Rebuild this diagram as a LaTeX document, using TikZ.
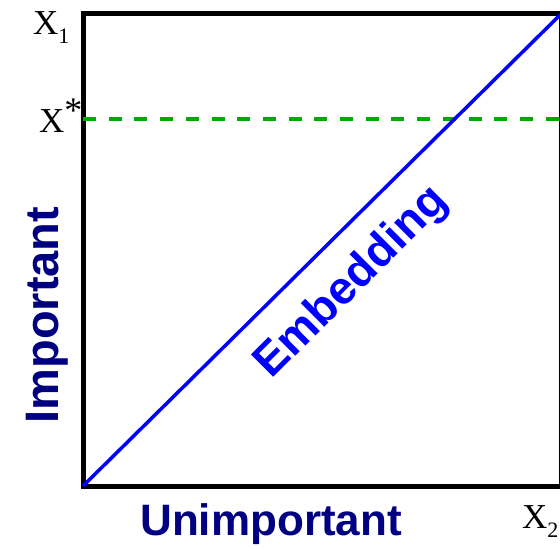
\documentclass[tikz,border=0pt]{standalone}
\usepackage{fontspec}
\setmainfont{Liberation Serif}
\newfontfamily\labelsans{Liberation Sans}
\usetikzlibrary{calc}
\definecolor{axisnavy}{RGB}{0,0,128}
\definecolor{embedblue}{RGB}{0,0,255}
\definecolor{levelgreen}{RGB}{0,170,0}

\begin{document}
\begin{tikzpicture}[
  x=1pt, y=-1pt,
  frame/.style={draw=black, line width=5pt},
  embed/.style={draw=embedblue, line width=3.5pt},
  level/.style={draw=levelgreen, line width=4pt, dash pattern=on 13pt off 12.7pt},
  axislab/.style={font=\labelsans\bfseries\fontsize{44}{44}\selectfont, text=axisnavy, inner sep=0pt},
  varlab/.style={font=\fontsize{35}{35}\selectfont, inner sep=0pt, anchor=base west}
]
\useasboundingbox (0,0) rectangle (560,551);

\coordinate (lo) at (83,486);
\coordinate (hi) at (561,14);
\coordinate (xstar) at (83,119);

\draw[frame] (lo) rectangle (hi);
\draw[level] (xstar) -- (xstar -| hi);
\draw[embed] (lo) -- (hi);

\node[varlab] (x1) at (33,35) {X\raisebox{-9pt}{\fontsize{22}{22}\selectfont 1}};
\node[varlab] (xs) at (39,132) {X\raisebox{10pt}{\fontsize{36}{36}\selectfont *}};
\node[varlab] (x2) at (522,528) {X\raisebox{-9pt}{\fontsize{22}{22}\selectfont 2}};

\node[axislab, rotate=90, anchor=base, font=\labelsans\bfseries\fontsize{47}{47}\selectfont] (imp) at (58,315) {Important};
\node[axislab, anchor=base] (unimp) at (271,535) {Unimportant};
\node[axislab, rotate=45, text=embedblue, font=\labelsans\bfseries\fontsize{46}{46}\selectfont] (emb) at (352,283) {Embedding};
\end{tikzpicture}
\end{document}
